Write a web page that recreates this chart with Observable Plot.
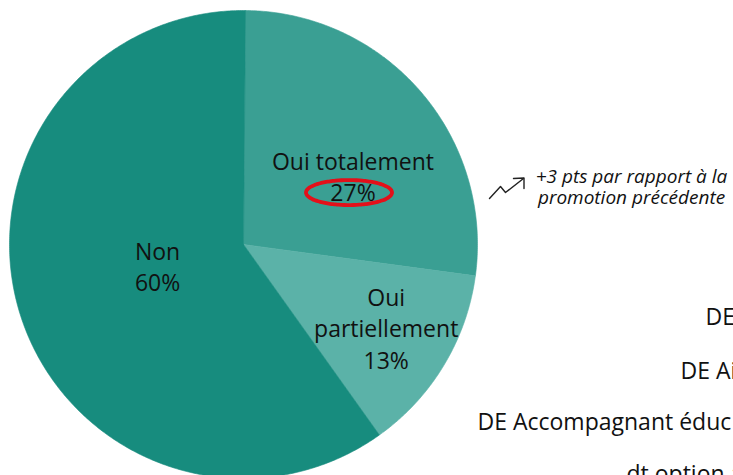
<!DOCTYPE html>
<html>
<head>
<meta charset="utf-8">
<script src="https://cdn.jsdelivr.net/npm/d3@7"></script>
<script src="https://cdn.jsdelivr.net/npm/@observablehq/plot@0.6"></script>
<style>
  html, body { margin: 0; padding: 0; background: #fff; overflow: hidden; }
  #chart { width: 733px; height: 475px; }
</style>
</head>
<body>
<div id="chart"></div>
<script>
// ---- data ----
const categories = ["Oui totalement", "Oui partiellement", "Non"];
const values = [27, 13, 60];
const sliceLabels = ["Oui totalement\n27%", "Oui\npartiellement\n13%", "Non\n60%"];
const colors = ["#3a9f93", "#5bb2a8", "#178c7e"];
const noteText = "+3 pts par rapport à la\npromotion précédente";
const sideLines = ["DE", "DE Ai", "DE Accompagnant éduc", "dt option a"];

// ---- layout ----
const W = 733, H = 475;
const cx = 243, cy = 244, R = 234;
const startDeg = 0.5;
const labelR = [0.553, 0.705, 0.378];
const labelShift = [8.7, -1, 3.8];     // degrees from slice mid-angle
const font = "'Open Sans', Lato, sans-serif";

const total = d3.sum(values);
const toRad = d => d * Math.PI / 180;
const px = (a, r) => cx + r * Math.sin(a);
const py = (a, r) => cy - r * Math.cos(a);

let acc = startDeg;
const slices = categories.map((c, i) => {
  const a0 = acc, a1 = acc + values[i] / total * 360;
  acc = a1;
  const pts = [{x: cx, y: cy}];
  const n = Math.max(2, Math.ceil((a1 - a0) / 0.5));
  for (let k = 0; k <= n; k++) {
    const a = toRad(a0 + (a1 - a0) * k / n);
    pts.push({x: px(a, R), y: py(a, R)});
  }
  pts.push({x: cx, y: cy});
  const mid = toRad((a0 + a1) / 2 + labelShift[i]);
  return {cat: c, color: colors[i], pts, lx: px(mid, labelR[i] * R), ly: py(mid, labelR[i] * R), label: sliceLabels[i]};
});

// highlight ellipse around the 27% value
const hl = slices[0];
const ell = d3.range(0, 361, 4).map(t => ({x: hl.lx - 4 + 43 * Math.cos(toRad(t)), y: hl.ly + 17 + 12.5 * Math.sin(toRad(t))}));

// trend arrow icon
const zig = [{x: 489, y: 198}, {x: 500, y: 186}, {x: 505, y: 192}, {x: 523, y: 178}];

const sideX = [705, 680, 477, 626];
const sideY = [308, 362, 413, 465];

const marks = [];
slices.forEach(s => {
  marks.push(Plot.line(s.pts, {x: "x", y: "y", fill: s.color, stroke: s.color, strokeWidth: 0.6, curve: "linear"}));
});
marks.push(Plot.text(slices, {
  x: "lx", y: "ly", text: "label", fontSize: 23, lineHeight: 1.36, lineAnchor: "middle",
  textAnchor: "middle", fill: "#111", fontFamily: font
}));
marks.push(Plot.line(ell, {x: "x", y: "y", stroke: "#e3101a", strokeWidth: 3.8, curve: "catmull-rom-closed"}));
marks.push(Plot.line(zig, {x: "x", y: "y", stroke: "#222", strokeWidth: 1.4}));
marks.push(Plot.line([{x: 513, y: 178}, {x: 523.5, y: 177.5}, {x: 523.5, y: 188}], {x: "x", y: "y", stroke: "#222", strokeWidth: 1.4}));
marks.push(Plot.text([noteText], {
  x: () => 631, y: () => 168, text: d => d, fontSize: 19, fontStyle: "italic", lineHeight: 1.08,
  lineAnchor: "top", textAnchor: "middle", fill: "#111", fontFamily: font
}));
marks.push(Plot.text(sideLines, {
  x: (d, i) => sideX[i], y: (d, i) => sideY[i], text: d => d, fontSize: 23, lineAnchor: "top",
  textAnchor: "start", fill: "#111", fontFamily: font
}));

const chart = Plot.plot({
  width: W, height: H,
  margin: 0,
  x: {domain: [0, W], range: [0, W], axis: null},
  y: {domain: [0, H], range: [0, H], axis: null},
  style: {background: "#fff", fontFamily: font, overflow: "hidden"},
  marks
});
document.getElementById("chart").appendChild(chart);
</script>
</body>
</html>
